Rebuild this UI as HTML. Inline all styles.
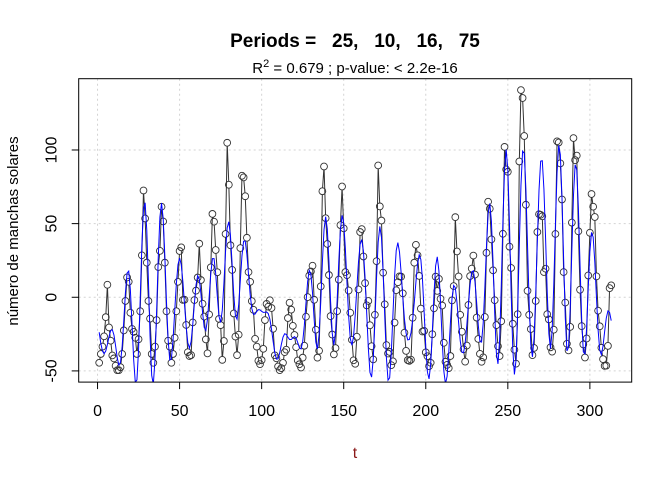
<!DOCTYPE html>
<html><head><meta charset="utf-8">
<style>
html,body{margin:0;padding:0;background:#fff;}
svg{display:block;font-family:"Liberation Sans",Arial,sans-serif;}
</style></head>
<body>
<svg id="chart" width="672" height="480" viewBox="0 0 672 480" xmlns="http://www.w3.org/2000/svg">
<defs><clipPath id="clip"><rect x="78.7" y="78.7" width="553" height="303.4"/></clipPath></defs>
<text x="355" y="47" text-anchor="middle" font-size="19" font-weight="bold" xml:space="preserve">Periods =   25,   10,   16,   75</text>
<text x="355" y="73" text-anchor="middle" font-size="15">R<tspan dy="-6" font-size="11">2</tspan><tspan dy="6"> = 0.679 ; p-value: &lt; 2.2e-16</tspan></text>
<g id="grid"></g>
<g id="plot" clip-path="url(#clip)"></g>
<g id="axes"></g>
<text x="355" y="458" text-anchor="middle" font-size="16" fill="#8b1a1a">t</text>
<text transform="translate(18,231) rotate(-90)" text-anchor="middle" font-size="15">número de manchas solares</text>
</svg>
<script>
// yearly sunspot numbers 1700..2012 (t = 1..313)
const sunspots = [5,11,16,23,36,58,29,20,10,8,3,0,0,2,11,27,47,63,60,39,28,26,22,11,21,40,78,122,103,73,47,35,11,5,16,34,70,81,111,101,73,40,20,16,5,11,22,40,60,80.9,83.4,47.7,47.8,30.7,12.2,9.6,10.2,32.4,47.6,54,62.9,85.9,61.2,45.1,36.4,20.9,11.4,37.8,69.8,106.1,100.8,81.6,66.5,34.8,30.6,7,19.8,92.5,154.4,125.9,84.8,68.1,38.5,22.8,10.2,24.1,82.9,132,130.9,118.1,89.9,66.6,60,46.9,41,21.3,16,6.4,4.1,6.8,14.5,34,45,43.1,47.5,42.2,28.1,10.1,8.1,2.5,0,1.4,5,12.2,13.9,35.4,45.8,41.1,30.1,23.9,15.6,6.6,4,1.8,8.5,16.6,36.3,49.6,64.2,67,70.9,47.8,27.5,8.5,13.2,56.9,121.5,138.3,103.2,85.7,64.6,36.7,24.2,10.7,15,40.1,61.5,98.5,124.7,96.3,66.6,64.5,54.1,39,20.6,6.7,4.3,22.7,54.8,93.8,95.8,77.2,59.1,44,47,30.5,16.3,7.3,37.6,74,139,111.2,101.6,66.2,44.7,17,11.3,12.4,3.4,6,32.3,54.3,59.7,63.7,63.5,52.2,25.4,13.1,6.8,6.3,7.1,35.6,73,85.1,78,64,41.8,26.2,26.7,12.1,9.5,2.7,5,24.4,42,63.5,53.8,62,48.5,43.9,18.6,5.7,3.6,1.4,9.6,47.4,57.1,103.9,80.6,63.6,37.6,26.1,14.2,5.8,16.7,44.3,63.9,69,77.8,64.9,35.7,21.2,11.1,5.7,8.7,36.1,79.7,114.4,109.6,88.8,67.8,47.5,30.6,16.3,9.6,33.2,92.6,151.6,136.3,134.7,83.9,69.4,31.5,13.9,4.4,38,141.7,190.2,184.8,159,112.3,53.9,37.6,27.9,10.2,15.1,47,93.8,105.9,105.5,104.5,66.6,68.9,38,34.5,15.5,12.6,27.5,92.5,155.4,154.6,140.4,115.9,66.6,45.9,17.9,13.4,29.4,100.2,157.6,142.6,145.7,94.3,54.6,29.9,17.5,8.6,21.5,64.3,93.3,119.6,111,104,63.7,40.4,29.8,15.2,7.5,2.9,3.1,16.5,55.7,57.6];
const trendLevel = 49.5;
const xTicks = [0,50,100,150,200,250,300];
const yTicks = [-50,0,50,100];
const nHarmonics = 12;

const NS="http://www.w3.org/2000/svg";
const L=78.7,R=631.7,T=78.7,B=382.1;
const xmin=-11.48,xmax=325.48,ymin=-57.6,ymax=148.4;
const sx=v=>L+(v-xmin)/(xmax-xmin)*(R-L);
const sy=v=>B-(v-ymin)/(ymax-ymin)*(B-T);
function mk(tag,attrs,parent){const e=document.createElementNS(NS,tag);for(const k in attrs)e.setAttribute(k,attrs[k]);parent.appendChild(e);return e;}

const resid = sunspots.map(v=>v-trendLevel);
const n = resid.length;
const ts = resid.map((_,i)=>i+1);

const meanVal = resid.reduce((a,b)=>a+b,0)/n;
const comps=[];
for(let k=1;k<n/2;k++){let a=0,b=0;for(let i=0;i<n;i++){const w=2*Math.PI*k*i/n;a+=(resid[i]-meanVal)*Math.cos(w);b+=(resid[i]-meanVal)*Math.sin(w);}comps.push({k:k,a:2*a/n,b:2*b/n,p:a*a+b*b});}
comps.sort((p,q)=>q.p-p.p);
const topComps=comps.slice(0,nHarmonics);
const fitVals=resid.map((_,i)=>{let s=meanVal;for(const c of topComps){const w=2*Math.PI*c.k*i/n;s+=c.a*Math.cos(w)+c.b*Math.sin(w);}return s;});

const grid=document.getElementById('grid');
for(const t of xTicks){const l=mk('line',{x1:sx(t),x2:sx(t),y1:T,y2:B,stroke:'#d3d3d3','stroke-dasharray':'2,3'},grid);

}
for(const v of yTicks){const l=mk('line',{x1:L,x2:R,y1:sy(v),y2:sy(v),stroke:'#d3d3d3','stroke-dasharray':'2,3'},grid);

}

const gData=document.getElementById('plot');
const rad=3.4;let d='';
for(let i=0;i<n-1;i++){const x1=sx(ts[i]),y1=sy(resid[i]),x2=sx(ts[i+1]),y2=sy(resid[i+1]);const dx=x2-x1,dy=y2-y1,len=Math.hypot(dx,dy);if(len>2*rad){const ux=dx/len,uy=dy/len;d+=`M${(x1+ux*rad).toFixed(2)},${(y1+uy*rad).toFixed(2)}L${(x2-ux*rad).toFixed(2)},${(y2-uy*rad).toFixed(2)}`;}}
const dl=mk('path',{d:d,stroke:'#333',fill:'none','stroke-width':1},gData);


for(let i=0;i<n;i++){const c=mk('circle',{cx:sx(ts[i]),cy:sy(resid[i]),r:rad,fill:'none',stroke:'#333','stroke-width':0.9},gData);

}
const fl=mk('path',{d:fitVals.map((v,i)=>(i?'L':'M')+sx(ts[i]).toFixed(2)+','+sy(v).toFixed(2)).join(''),stroke:'#0000ff',fill:'none','stroke-width':1},gData);



const axes=document.getElementById('axes');
const box=mk('rect',{x:L,y:T,width:R-L,height:B-T,fill:'none',stroke:'#000','stroke-width':1},axes);


for(const t of xTicks){mk('line',{x1:sx(t),x2:sx(t),y1:B,y2:B+7,stroke:'#000'},axes);
const tx=mk('text',{x:sx(t),y:B+34,'text-anchor':'middle','font-size':16},axes);tx.textContent=t;

}
for(const v of yTicks){mk('line',{x1:L-7,x2:L,y1:sy(v),y2:sy(v),stroke:'#000'},axes);
const tx=mk('text',{transform:`translate(${L-22},${sy(v)}) rotate(-90)`,'text-anchor':'middle','font-size':16},axes);tx.textContent=v;

}
</script>
</body></html>
